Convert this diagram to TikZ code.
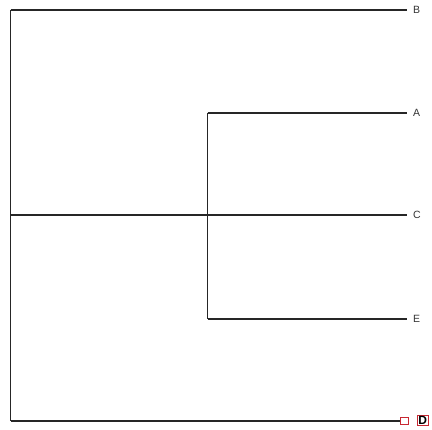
\documentclass[tikz,border=0pt]{standalone}
\usepackage{fontspec}
\setmainfont{Liberation Sans}
\definecolor{tipred}{RGB}{200,40,50}
\begin{document}
\begin{tikzpicture}[x=1pt,y=-1pt,
  branch/.style={draw=black!85,line width=1.3pt},
  leaf/.style={inner sep=0pt,font=\fontsize{10.5}{10.5}\selectfont,text=black!80,anchor=west},
  tipbox/.style={draw=tipred,line width=1pt,inner sep=0pt}]
  \useasboundingbox (0,0) rectangle (432,430);
  \fill[white] (0,0) rectangle (432,430);
  % junctions
  \coordinate (root) at (10.5,215);
  \coordinate (rtop) at (10.5,10);
  \coordinate (rbot) at (10.5,421);
  \coordinate (inner) at (207.5,215);
  \coordinate (itop) at (207.5,113);
  \coordinate (ibot) at (207.5,319);
  % tip ends
  \coordinate (tB) at (407,10);
  \coordinate (tA) at (407,113);
  \coordinate (tC) at (407,215);
  \coordinate (tE) at (407,319);
  \coordinate (tD) at (400,421);
  % leaf labels
  \node[leaf] (B) at (413,10) {B};
  \node[leaf] (A) at (413,113) {A};
  \node[leaf] (C) at (413,215) {C};
  \node[leaf] (E) at (413,319) {E};
  \node[leaf,draw=tipred,line width=1.2pt,inner sep=1.2pt,font=\fontsize{12}{12}\selectfont\bfseries,text=black] (D) at (416.5,420.5) {D};
  % small marker before D
  \node[tipbox,minimum width=8pt,minimum height=6.5pt,anchor=west] (m) at (tD) {};
  % branches
  \draw[branch] (rtop) -- (rbot);
  \draw[branch] (rtop) -- (tB);
  \draw[branch] (root) -- (inner) -- (tC);
  \draw[branch] (itop) -- (ibot);
  \draw[branch] (itop) -- (tA);
  \draw[branch] (ibot) -- (tE);
  \draw[branch] (rbot) -- (m.west);
\end{tikzpicture}
\end{document}
